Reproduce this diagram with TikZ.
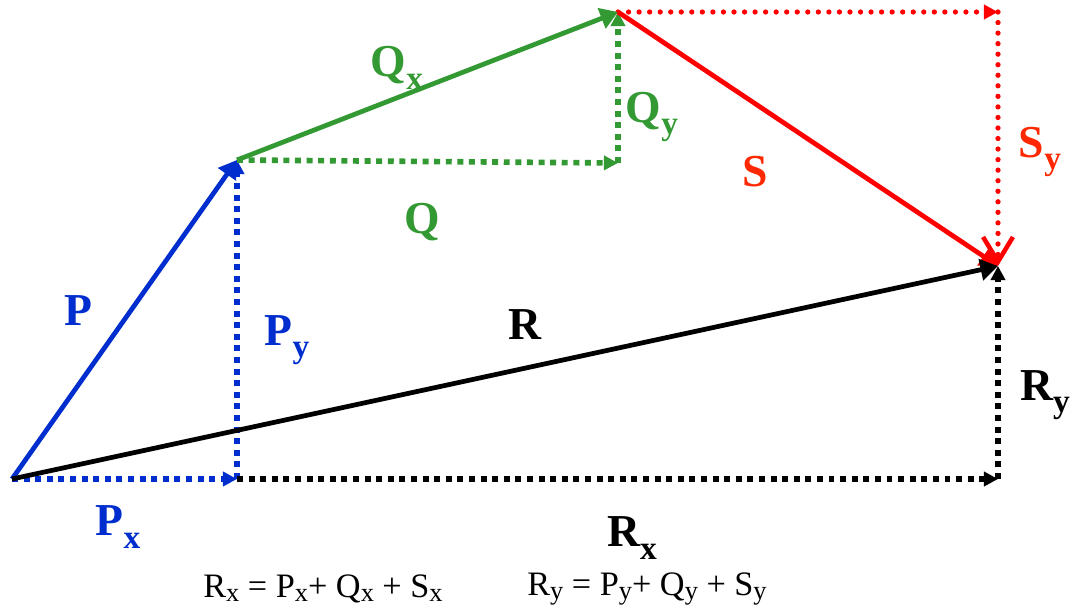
\documentclass[tikz,border=0pt]{standalone}
\usepackage{fontspec}
\setmainfont{Liberation Serif}
\usepackage{xcolor}
\usepackage{tikz}
\usetikzlibrary{arrows.meta, positioning, calc}

\definecolor{pblue}{RGB}{0,45,205}
\definecolor{qgreen}{RGB}{51,153,51}
\definecolor{sred}{RGB}{255,0,0}
\definecolor{slabel}{RGB}{255,40,0}

% vector label with lowered subscript
\newcommand{\vlbl}[2]{\textbf{#1\raisebox{-7pt}{\fontsize{19}{19}\selectfont #2}}}
\newcommand{\esub}[1]{\raisebox{-2pt}{\fontsize{15}{16}\selectfont #1}}

\begin{document}
\begin{tikzpicture}[
  vec/.style={line width=2.7pt, -{Triangle[length=10pt, width=12pt]}},
  comp/.style={line width=3.2pt, dash pattern=on 3.4pt off 3.2pt, -{Triangle[length=8pt, width=8pt]}},
  rcomp/.style={line width=3pt, line cap=round, dash pattern=on 0pt off 6pt},
  lbl/.style={font=\fontsize{26}{28}\selectfont\bfseries, inner sep=0pt},
  eqn/.style={font=\fontsize{19.5}{21}\selectfont, inner sep=0pt}
]
\useasboundingbox (0,0) rectangle (21.48,12.26);

% --- Points ---
\coordinate (o) at (0.24,2.68);
\coordinate (a) at (4.74,9.06);
\coordinate (f) at (4.74,2.68);
\coordinate (b) at (12.36,12.02);
\coordinate (k) at (12.36,9.00);
\coordinate (c) at (19.96,6.94);
\coordinate (d) at (19.96,12.02);
\coordinate (e) at (19.96,2.68);

% --- Components (dotted) ---
\draw[comp, pblue] (o) -- (f);
\draw[comp, pblue] (f) -- (a);
\draw[comp, black] (f) -- (e);
\draw[comp, black] (e) -- (c);
\draw[comp, qgreen] (a) -- (k);
\draw[comp, qgreen] (k) -- (b);
\draw[rcomp, sred, -{Triangle[length=8pt, width=8pt]}] (b) -- (d);

% --- Vectors ---
\draw[vec, pblue] (o) -- (a);
\draw[vec, qgreen] (a) -- (b);
\draw[vec, sred] (b) -- (c);
\draw[vec, black] (o) -- (c);
\draw[rcomp, sred, -{Straight Barb[length=14pt, width=17pt, line width=2.6pt, line cap=butt]}] (d) -- (c);

% --- Labels ---
\node[lbl, pblue] (lp) at (1.56,6.04) {P};
\node[lbl, pblue] (lpx) at (2.36,1.72) {\vlbl{P}{x}};
\node[lbl, pblue] (lpy) at (5.74,5.46) {\vlbl{P}{y}};
\node[lbl, qgreen] (lqx) at (7.94,10.9) {\vlbl{Q}{x}};
\node[lbl, qgreen] (lqy) at (13.04,9.92) {\vlbl{Q}{y}};
\node[lbl, qgreen] (lq) at (8.44,7.82) {Q};
\node[lbl, slabel] (ls) at (15.1,8.82) {S};
\node[lbl, slabel] (lsy) at (20.8,9.22) {\vlbl{S}{y}};
\node[lbl, black] (lr) at (10.5,5.76) {R};
\node[lbl, black] (lry) at (20.9,4.36) {\vlbl{R}{y}};
\node[lbl, black] (lrx) at (12.64,1.5) {\vlbl{R}{x}};

% --- Sums ---
\node[eqn] (eqx) at (6.46,0.48) {R\esub{x} = P\esub{x}+ Q\esub{x} + S\esub{x}};
\node[eqn] (eqy) at (12.94,0.48) {R\esub{y} = P\esub{y}+ Q\esub{y} + S\esub{y}};

\end{tikzpicture}
\end{document}
